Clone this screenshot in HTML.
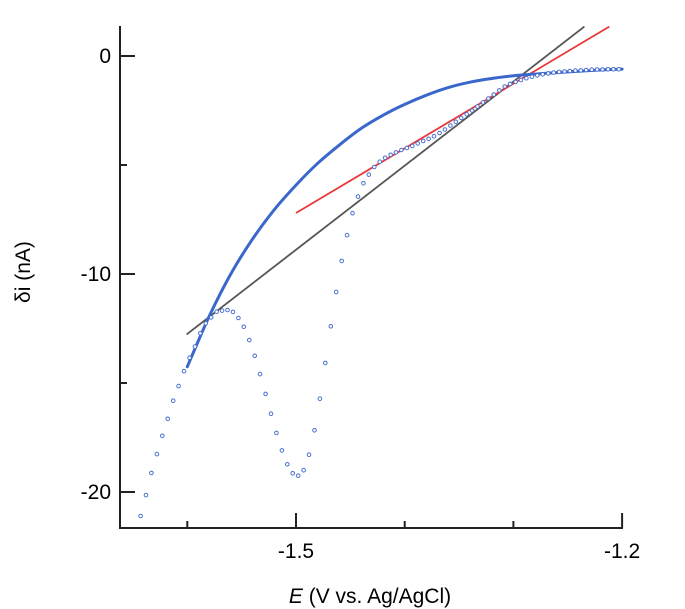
<!DOCTYPE html>
<html><head><meta charset="utf-8"><style>
html,body{margin:0;padding:0;background:#fff;}
svg{display:block;font-family:"Liberation Sans",sans-serif;}
</style></head><body>
<svg id="chart" width="685" height="609" viewBox="0 0 685 609">
<g id="axes"></g>
<g id="lines"></g>
<g id="dots"></g>
<text x="30" y="272" font-size="21" text-anchor="middle" transform="rotate(-90 30 272)">δi (nA)</text>
<text x="370" y="603" font-size="21" text-anchor="middle"><tspan font-style="italic">E</tspan> (V vs. Ag/AgCl)</text>
</svg>
<script>
const dotV = [-1.643,-1.638,-1.633,-1.628,-1.623,-1.618,-1.613,-1.608,-1.603,-1.598,-1.593,-1.588,-1.583,-1.578,-1.573,-1.568,-1.563,-1.558,-1.553,-1.548,-1.543,-1.538,-1.533,-1.528,-1.523,-1.518,-1.513,-1.508,-1.503,-1.498,-1.493,-1.488,-1.483,-1.478,-1.473,-1.468,-1.463,-1.458,-1.453,-1.448,-1.443,-1.438,-1.433,-1.428,-1.423,-1.418,-1.413,-1.408,-1.403,-1.398,-1.393,-1.388,-1.383,-1.378,-1.373,-1.368,-1.363,-1.358,-1.353,-1.348,-1.343,-1.338,-1.333,-1.328,-1.323,-1.318,-1.313,-1.308,-1.303,-1.298,-1.293,-1.288,-1.283,-1.278,-1.273,-1.268,-1.263,-1.258,-1.253,-1.248,-1.243,-1.238,-1.233,-1.228,-1.223,-1.218,-1.213,-1.208,-1.203];
const dotI = [-21.10,-20.14,-19.13,-18.26,-17.42,-16.64,-15.81,-15.14,-14.46,-13.84,-13.33,-12.72,-12.26,-11.99,-11.73,-11.68,-11.65,-11.74,-12.02,-12.42,-13.03,-13.75,-14.59,-15.50,-16.41,-17.29,-18.09,-18.73,-19.14,-19.25,-19.00,-18.29,-17.17,-15.72,-14.08,-12.40,-10.83,-9.40,-8.22,-7.21,-6.45,-5.84,-5.44,-5.09,-4.85,-4.67,-4.53,-4.42,-4.31,-4.22,-4.13,-4.01,-3.90,-3.80,-3.68,-3.53,-3.37,-3.19,-3.02,-2.84,-2.67,-2.50,-2.32,-2.13,-1.95,-1.77,-1.58,-1.40,-1.28,-1.19,-1.10,-1.02,-0.95,-0.89,-0.84,-0.80,-0.76,-0.73,-0.71,-0.69,-0.67,-0.66,-0.64,-0.63,-0.62,-0.62,-0.61,-0.61,-0.61];
const fitV = [-1.60,-1.58,-1.56,-1.54,-1.52,-1.50,-1.48,-1.46,-1.44,-1.42,-1.40,-1.38,-1.36,-1.34,-1.32,-1.30,-1.28,-1.26,-1.24,-1.22,-1.20];
const fitI = [-14.25,-11.96,-10.00,-8.40,-7.05,-5.92,-4.92,-4.08,-3.32,-2.72,-2.22,-1.80,-1.45,-1.20,-1.03,-0.91,-0.83,-0.76,-0.70,-0.64,-0.60];
const grayV = [-1.6006,-1.2347];
const grayI = [-12.77,1.35];
const redV = [-1.500,-1.2118];
const redI = [-7.20,1.35];
const xMajor = [-1.5,-1.2];
const xMinor = [-1.6,-1.4,-1.3];
const yMajor = [0,-10,-20];
const yMinor = [-5,-15];

const NS="http://www.w3.org/2000/svg";
function X(v){return 296+(v+1.5)*1087;}
function Y(i){return 56-i*21.8;}
function mk(tag,attrs,parent){const e=document.createElementNS(NS,tag);for(const k in attrs)e.setAttribute(k,attrs[k]);parent.appendChild(e);return e;}
const axes=document.getElementById('axes');
let e=mk('line',{x1:120,y1:26,x2:120,y2:529,stroke:'#222','stroke-width':2},axes);


e=mk('line',{x1:119,y1:528,x2:623,y2:528,stroke:'#222','stroke-width':2},axes);


xMajor.forEach(v=>{const t=mk('line',{x1:X(v),y1:528,x2:X(v),y2:513,stroke:'#222','stroke-width':2},axes);


const l=mk('text',{x:X(v),y:558,'font-size':21,'text-anchor':'middle'},axes);l.textContent=v.toFixed(1);

});
xMinor.forEach(v=>{const t=mk('line',{x1:X(v),y1:528,x2:X(v),y2:521,stroke:'#222','stroke-width':2},axes);

});
yMajor.forEach(v=>{const t=mk('line',{x1:120,y1:Y(v),x2:135,y2:Y(v),stroke:'#222','stroke-width':2},axes);


const l=mk('text',{x:111,y:Y(v)+7,'font-size':21,'text-anchor':'end'},axes);l.textContent=String(v);

});
yMinor.forEach(v=>{const t=mk('line',{x1:120,y1:Y(v),x2:127,y2:Y(v),stroke:'#222','stroke-width':2},axes);

});
const lines=document.getElementById('lines');
function poly(V,I){return V.map((v,k)=>X(v).toFixed(1)+','+Y(I[k]).toFixed(1)).join(' ');}
function smooth(V,I){const p=V.map((v,k)=>[X(v),Y(I[k])]);let d='M'+p[0][0].toFixed(1)+','+p[0][1].toFixed(1);
for(let k=0;k<p.length-1;k++){const p0=p[k-1]||p[k],p1=p[k],p2=p[k+1],p3=p[k+2]||p[k+1];
const c1=[p1[0]+(p2[0]-p0[0])/6,p1[1]+(p2[1]-p0[1])/6],c2=[p2[0]-(p3[0]-p1[0])/6,p2[1]-(p3[1]-p1[1])/6];
d+=' C'+c1.map(n=>n.toFixed(1)).join(',')+' '+c2.map(n=>n.toFixed(1)).join(',')+' '+p2[0].toFixed(1)+','+p2[1].toFixed(1);}
return d;}
e=mk('polyline',{points:poly(grayV,grayI),fill:'none',stroke:'#555','stroke-width':1.8},lines);


e=mk('polyline',{points:poly(redV,redI),fill:'none',stroke:'#e8383b','stroke-width':1.8},lines);


e=mk('path',{d:smooth(fitV,fitI),fill:'none',stroke:'#3a67cc','stroke-width':3,'stroke-linejoin':'round','stroke-linecap':'round'},lines);


const dots=document.getElementById('dots');
dotV.forEach((v,k)=>{const c=mk('circle',{cx:X(v).toFixed(1),cy:Y(dotI[k]).toFixed(1),r:1.8,fill:'#fff',stroke:'#4a6fd0','stroke-width':1},dots);

});
</script>
</body></html>
